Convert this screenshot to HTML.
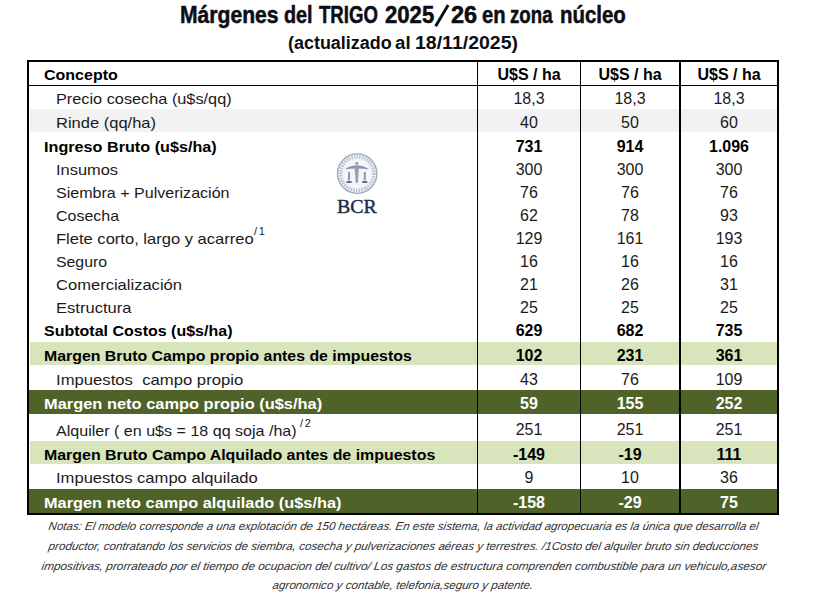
<!DOCTYPE html>
<html><head><meta charset="utf-8"><style>
html,body{margin:0;padding:0;background:#fff;width:828px;height:598px;overflow:hidden;position:relative}
*{box-sizing:border-box}
.a{position:absolute;white-space:nowrap}
.t{font-family:"Liberation Sans",sans-serif;font-size:15px;line-height:18px}
.b{font-weight:bold}
.c{text-align:center}
</style></head><body>

<div class="a" style="left:0;top:0;width:828px;height:598px">
<div class="a b" style="left:180.09px;top:1.93px;font-family:'Liberation Sans',sans-serif;font-size:23.3px;line-height:26px;color:#0d0d14;-webkit-text-stroke:0.5px #0d0d14;transform-origin:0 0;transform:scaleX(0.9065)">Márgenes</div>
<div class="a b" style="left:283.65px;top:1.93px;font-family:'Liberation Sans',sans-serif;font-size:23.3px;line-height:26px;color:#0d0d14;-webkit-text-stroke:0.5px #0d0d14;transform-origin:0 0;transform:scaleX(0.8500)">del</div>
<div class="a b" style="left:318.60px;top:1.93px;font-family:'Liberation Sans',sans-serif;font-size:23.3px;line-height:26px;color:#0d0d14;-webkit-text-stroke:0.5px #0d0d14;transform-origin:0 0;transform:scaleX(0.7986)">TRIGO</div>
<div class="a b" style="left:385.00px;top:1.93px;font-family:'Liberation Sans',sans-serif;font-size:23.3px;line-height:26px;color:#0d0d14;-webkit-text-stroke:0.5px #0d0d14;transform-origin:0 0;transform:scaleX(0.9490)">2025</div>
<div class="a b" style="left:450.70px;top:1.93px;font-family:'Liberation Sans',sans-serif;font-size:23.3px;line-height:26px;color:#0d0d14;-webkit-text-stroke:0.5px #0d0d14;transform-origin:0 0;transform:scaleX(1.0120)">26</div>
<div class="a b" style="left:481.63px;top:1.93px;font-family:'Liberation Sans',sans-serif;font-size:23.3px;line-height:26px;color:#0d0d14;-webkit-text-stroke:0.5px #0d0d14;transform-origin:0 0;transform:scaleX(0.8680)">en</div>
<div class="a b" style="left:509.70px;top:1.93px;font-family:'Liberation Sans',sans-serif;font-size:23.3px;line-height:26px;color:#0d0d14;-webkit-text-stroke:0.5px #0d0d14;transform-origin:0 0;transform:scaleX(0.8019)">zona</div>
<div class="a b" style="left:560.22px;top:1.93px;font-family:'Liberation Sans',sans-serif;font-size:23.3px;line-height:26px;color:#0d0d14;-webkit-text-stroke:0.5px #0d0d14;transform-origin:0 0;transform:scaleX(0.8767)">núcleo</div>
<svg class="a" style="left:0;top:0" width="828" height="40"><line x1="435.6" y1="26.3" x2="448.2" y2="5" stroke="#0d0d14" stroke-width="2.9"/></svg>
<div class="a b" style="left:287.98px;top:32.74px;font-family:'Liberation Sans',sans-serif;font-size:17.5px;line-height:20px;color:#0d0d14;transform-origin:0 0;transform:scaleX(1.0250)">(actualizado</div>
<div class="a b" style="left:394.93px;top:32.74px;font-family:'Liberation Sans',sans-serif;font-size:17.5px;line-height:20px;color:#0d0d14;transform-origin:0 0;transform:scaleX(1.0667)">al</div>
<div class="a b" style="left:414.89px;top:32.74px;font-family:'Liberation Sans',sans-serif;font-size:17.5px;line-height:20px;color:#0d0d14;transform-origin:0 0;transform:scaleX(1.1143)">18/11/2025)</div>
<div class="t a b" style="left:44px;top:65.80px;color:#000;transform-origin:0 0;transform:scaleX(1.0667)">Concepto</div>
<div class="t a b c" style="left:478px;top:65.59px;width:102px;color:#000;font-size:15.6px;transform:scaleX(1.0256)">U$S / ha</div>
<div class="t a b c" style="left:581px;top:65.59px;width:98px;color:#000;font-size:15.6px;transform:scaleX(1.0256)">U$S / ha</div>
<div class="t a b c" style="left:681px;top:65.59px;width:96px;color:#000;font-size:15.6px;transform:scaleX(1.0256)">U$S / ha</div>
<div class="t a" style="left:56px;top:89.80px;color:#1a1a1a;transform-origin:0 0;transform:scaleX(1.0859)">Precio cosecha (u$s/qq)</div>
<div class="t a c" style="left:478px;top:89.59px;width:102px;color:#1a1a1a;font-size:15.6px;transform:scaleX(1.0256)">18,3</div>
<div class="t a c" style="left:581px;top:89.59px;width:98px;color:#1a1a1a;font-size:15.6px;transform:scaleX(1.0256)">18,3</div>
<div class="t a c" style="left:681px;top:89.59px;width:96px;color:#1a1a1a;font-size:15.6px;transform:scaleX(1.0256)">18,3</div>
<div class="a" style="left:30px;top:109px;width:747px;height:23px;background:#F2F2F2"></div>
<div class="t a" style="left:56px;top:113.80px;color:#1a1a1a;transform-origin:0 0;transform:scaleX(1.1008)">Rinde (qq/ha)</div>
<div class="t a c" style="left:478px;top:113.59px;width:102px;color:#1a1a1a;font-size:15.6px;transform:scaleX(1.0256)">40</div>
<div class="t a c" style="left:581px;top:113.59px;width:98px;color:#1a1a1a;font-size:15.6px;transform:scaleX(1.0256)">50</div>
<div class="t a c" style="left:681px;top:113.59px;width:96px;color:#1a1a1a;font-size:15.6px;transform:scaleX(1.0256)">60</div>
<div class="t a b" style="left:44px;top:137.80px;color:#000;transform-origin:0 0;transform:scaleX(1.0795)">Ingreso Bruto (u$s/ha)</div>
<div class="t a b c" style="left:478px;top:137.59px;width:102px;color:#000;font-size:15.6px;transform:scaleX(1.0256)">731</div>
<div class="t a b c" style="left:581px;top:137.59px;width:98px;color:#000;font-size:15.6px;transform:scaleX(1.0256)">914</div>
<div class="t a b c" style="left:681px;top:137.59px;width:96px;color:#000;font-size:15.6px;transform:scaleX(1.0256)">1.096</div>
<div class="t a" style="left:56px;top:161.10px;color:#1a1a1a;transform-origin:0 0;transform:scaleX(1.0944)">Insumos</div>
<div class="t a c" style="left:478px;top:160.89px;width:102px;color:#1a1a1a;font-size:15.6px;transform:scaleX(1.0256)">300</div>
<div class="t a c" style="left:581px;top:160.89px;width:98px;color:#1a1a1a;font-size:15.6px;transform:scaleX(1.0256)">300</div>
<div class="t a c" style="left:681px;top:160.89px;width:96px;color:#1a1a1a;font-size:15.6px;transform:scaleX(1.0256)">300</div>
<div class="t a" style="left:56px;top:183.90px;color:#1a1a1a;transform-origin:0 0;transform:scaleX(1.0699)">Siembra + Pulverización</div>
<div class="t a c" style="left:478px;top:183.69px;width:102px;color:#1a1a1a;font-size:15.6px;transform:scaleX(1.0256)">76</div>
<div class="t a c" style="left:581px;top:183.69px;width:98px;color:#1a1a1a;font-size:15.6px;transform:scaleX(1.0256)">76</div>
<div class="t a c" style="left:681px;top:183.69px;width:96px;color:#1a1a1a;font-size:15.6px;transform:scaleX(1.0256)">76</div>
<div class="t a" style="left:56px;top:206.80px;color:#1a1a1a;transform-origin:0 0;transform:scaleX(1.0667)">Cosecha</div>
<div class="t a c" style="left:478px;top:206.59px;width:102px;color:#1a1a1a;font-size:15.6px;transform:scaleX(1.0256)">62</div>
<div class="t a c" style="left:581px;top:206.59px;width:98px;color:#1a1a1a;font-size:15.6px;transform:scaleX(1.0256)">78</div>
<div class="t a c" style="left:681px;top:206.59px;width:96px;color:#1a1a1a;font-size:15.6px;transform:scaleX(1.0256)">93</div>
<div class="t a" style="left:56px;top:230.20px;color:#1a1a1a;transform-origin:0 0;transform:scaleX(1.1029)">Flete corto, largo y acarreo</div>
<div class="t a c" style="left:478px;top:229.99px;width:102px;color:#1a1a1a;font-size:15.6px;transform:scaleX(1.0256)">129</div>
<div class="t a c" style="left:581px;top:229.99px;width:98px;color:#1a1a1a;font-size:15.6px;transform:scaleX(1.0256)">161</div>
<div class="t a c" style="left:681px;top:229.99px;width:96px;color:#1a1a1a;font-size:15.6px;transform:scaleX(1.0256)">193</div>
<div class="t a" style="left:56px;top:253.00px;color:#1a1a1a;transform-origin:0 0;transform:scaleX(1.0560)">Seguro</div>
<div class="t a c" style="left:478px;top:252.79px;width:102px;color:#1a1a1a;font-size:15.6px;transform:scaleX(1.0256)">16</div>
<div class="t a c" style="left:581px;top:252.79px;width:98px;color:#1a1a1a;font-size:15.6px;transform:scaleX(1.0256)">16</div>
<div class="t a c" style="left:681px;top:252.79px;width:96px;color:#1a1a1a;font-size:15.6px;transform:scaleX(1.0256)">16</div>
<div class="t a" style="left:56px;top:275.90px;color:#1a1a1a;transform-origin:0 0;transform:scaleX(1.1029)">Comercialización</div>
<div class="t a c" style="left:478px;top:275.69px;width:102px;color:#1a1a1a;font-size:15.6px;transform:scaleX(1.0256)">21</div>
<div class="t a c" style="left:581px;top:275.69px;width:98px;color:#1a1a1a;font-size:15.6px;transform:scaleX(1.0256)">26</div>
<div class="t a c" style="left:681px;top:275.69px;width:96px;color:#1a1a1a;font-size:15.6px;transform:scaleX(1.0256)">31</div>
<div class="t a" style="left:56px;top:298.90px;color:#1a1a1a;transform-origin:0 0;transform:scaleX(1.1040)">Estructura</div>
<div class="t a c" style="left:478px;top:298.69px;width:102px;color:#1a1a1a;font-size:15.6px;transform:scaleX(1.0256)">25</div>
<div class="t a c" style="left:581px;top:298.69px;width:98px;color:#1a1a1a;font-size:15.6px;transform:scaleX(1.0256)">25</div>
<div class="t a c" style="left:681px;top:298.69px;width:96px;color:#1a1a1a;font-size:15.6px;transform:scaleX(1.0256)">25</div>
<div class="t a b" style="left:44px;top:322.30px;color:#000;transform-origin:0 0;transform:scaleX(1.0667)">Subtotal Costos (u$s/ha)</div>
<div class="t a b c" style="left:478px;top:322.09px;width:102px;color:#000;font-size:15.6px;transform:scaleX(1.0256)">629</div>
<div class="t a b c" style="left:581px;top:322.09px;width:98px;color:#000;font-size:15.6px;transform:scaleX(1.0256)">682</div>
<div class="t a b c" style="left:681px;top:322.09px;width:96px;color:#000;font-size:15.6px;transform:scaleX(1.0256)">735</div>
<div class="a" style="left:30px;top:342px;width:747px;height:23px;background:#D8E4BC"></div>
<div class="t a b" style="left:44px;top:346.90px;color:#000;transform-origin:0 0;transform:scaleX(1.0581)">Margen Bruto Campo propio antes de impuestos</div>
<div class="t a b c" style="left:478px;top:346.69px;width:102px;color:#000;font-size:15.6px;transform:scaleX(1.0256)">102</div>
<div class="t a b c" style="left:581px;top:346.69px;width:98px;color:#000;font-size:15.6px;transform:scaleX(1.0256)">231</div>
<div class="t a b c" style="left:681px;top:346.69px;width:96px;color:#000;font-size:15.6px;transform:scaleX(1.0256)">361</div>
<div class="t a" style="left:56px;top:370.80px;color:#1a1a1a;transform-origin:0 0;transform:scaleX(1.1115)">Impuestos &nbsp;campo propio</div>
<div class="t a c" style="left:478px;top:370.59px;width:102px;color:#1a1a1a;font-size:15.6px;transform:scaleX(1.0256)">43</div>
<div class="t a c" style="left:581px;top:370.59px;width:98px;color:#1a1a1a;font-size:15.6px;transform:scaleX(1.0256)">76</div>
<div class="t a c" style="left:681px;top:370.59px;width:96px;color:#1a1a1a;font-size:15.6px;transform:scaleX(1.0256)">109</div>
<div class="a" style="left:29px;top:390px;width:748px;height:24px;background:#4F6228"></div>
<div class="t a b" style="left:44px;top:394.90px;color:#fff;transform-origin:0 0;transform:scaleX(1.0944)">Margen neto campo propio (u$s/ha)</div>
<div class="t a b c" style="left:478px;top:394.69px;width:102px;color:#fff;font-size:15.6px;transform:scaleX(1.0256)">59</div>
<div class="t a b c" style="left:581px;top:394.69px;width:98px;color:#fff;font-size:15.6px;transform:scaleX(1.0256)">155</div>
<div class="t a b c" style="left:681px;top:394.69px;width:96px;color:#fff;font-size:15.6px;transform:scaleX(1.0256)">252</div>
<div class="t a" style="left:56px;top:421.50px;color:#1a1a1a;transform-origin:0 0;transform:scaleX(1.0709)">Alquiler ( en u$s = 18 qq soja /ha)</div>
<div class="t a c" style="left:478px;top:421.29px;width:102px;color:#1a1a1a;font-size:15.6px;transform:scaleX(1.0256)">251</div>
<div class="t a c" style="left:581px;top:421.29px;width:98px;color:#1a1a1a;font-size:15.6px;transform:scaleX(1.0256)">251</div>
<div class="t a c" style="left:681px;top:421.29px;width:96px;color:#1a1a1a;font-size:15.6px;transform:scaleX(1.0256)">251</div>
<div class="a" style="left:30px;top:441px;width:747px;height:23px;background:#D8E4BC"></div>
<div class="t a b" style="left:44px;top:445.90px;color:#000;transform-origin:0 0;transform:scaleX(1.0613)">Margen Bruto Campo Alquilado antes de impuestos</div>
<div class="t a b c" style="left:478px;top:445.69px;width:102px;color:#000;font-size:15.6px;transform:scaleX(1.0256)">-149</div>
<div class="t a b c" style="left:581px;top:445.69px;width:98px;color:#000;font-size:15.6px;transform:scaleX(1.0256)">-19</div>
<div class="t a b c" style="left:681px;top:445.69px;width:96px;color:#000;font-size:15.6px;transform:scaleX(1.0256)">111</div>
<div class="t a" style="left:56px;top:469.40px;color:#1a1a1a;transform-origin:0 0;transform:scaleX(1.1051)">Impuestos campo alquilado</div>
<div class="t a c" style="left:478px;top:469.19px;width:102px;color:#1a1a1a;font-size:15.6px;transform:scaleX(1.0256)">9</div>
<div class="t a c" style="left:581px;top:469.19px;width:98px;color:#1a1a1a;font-size:15.6px;transform:scaleX(1.0256)">10</div>
<div class="t a c" style="left:681px;top:469.19px;width:96px;color:#1a1a1a;font-size:15.6px;transform:scaleX(1.0256)">36</div>
<div class="a" style="left:29px;top:489px;width:748px;height:24px;background:#4F6228"></div>
<div class="t a b" style="left:44px;top:493.90px;color:#fff;transform-origin:0 0;transform:scaleX(1.0880)">Margen neto campo alquilado (u$s/ha)</div>
<div class="t a b c" style="left:478px;top:493.69px;width:102px;color:#fff;font-size:15.6px;transform:scaleX(1.0256)">-158</div>
<div class="t a b c" style="left:581px;top:493.69px;width:98px;color:#fff;font-size:15.6px;transform:scaleX(1.0256)">-29</div>
<div class="t a b c" style="left:681px;top:493.69px;width:96px;color:#fff;font-size:15.6px;transform:scaleX(1.0256)">75</div>
<div class="a" style="left:254px;top:225.19px;font-family:'Liberation Sans',sans-serif;font-size:11px;line-height:12px;color:#1a1a1a">/<span style="margin-left:1.6px">1</span></div>
<div class="a" style="left:300px;top:417.19px;font-family:'Liberation Sans',sans-serif;font-size:11px;line-height:12px;color:#1a1a1a">/<span style="margin-left:1.6px">2</span></div>
<div class="a" style="left:27px;top:60px;width:752px;height:455px;border:2px solid #000"></div>
<div class="a" style="left:29px;top:85px;width:748px;height:1px;background:#000"></div>
<div class="a" style="left:477px;top:62px;width:1px;height:451px;background:#000"></div>
<div class="a" style="left:580px;top:62px;width:1px;height:451px;background:#000"></div>
<div class="a" style="left:679px;top:62px;width:2px;height:451px;background:#000"></div>
<svg class="a" style="left:335px;top:152px" width="45" height="45" viewBox="0 0 45 45">
<circle cx="22.2" cy="21.6" r="19.7" fill="#f3f5f9" stroke="#9aa7bd" stroke-width="1.3"/>
<circle cx="22.2" cy="21.6" r="16.8" fill="none" stroke="#b6c0cf" stroke-width="3.6" stroke-dasharray="1.4 1.2"/>
<circle cx="21.8" cy="11.3" r="1.5" fill="#8e9bb1"/>
<path d="M9.8 17.6 Q14 13.6 21.8 13.2 Q29.6 13.6 33.8 17.6 Q28 16.2 21.8 16.4 Q15.6 16.2 9.8 17.6 Z" fill="#8794ab"/>
<path d="M19.4 15 L24 15 L23.4 23 L23 30.8 L20.6 30.8 L20.2 23 Z" fill="#94a1b6"/>
<path d="M14 20 L14 28.5 M29.8 20 L29.8 28.5" stroke="#8c99ae" stroke-width="2"/>
<path d="M11.6 30 L16.6 30 M27.3 30 L32.3 30" stroke="#5d6d88" stroke-width="2"/>
</svg>
<div class="a" style="left:337px;top:196.72px;font-family:'Liberation Serif',serif;font-size:19.5px;line-height:20px;color:#1f2d4e;-webkit-text-stroke:0.45px #1f2d4e;transform-origin:0 0;transform:scaleX(1.02)">BCR</div>
<div class="a" style="transform-origin:0 10.5px;transform:scaleX(1.0014) skewX(-9deg);left:48px;top:519.52px;font-family:'Liberation Sans',sans-serif;font-style:italic;font-size:11.5px;line-height:13px;color:#303030">Notas: El modelo corresponde a una explotación de 150 hectáreas. En este sistema, la actividad agropecuaria es la única que desarrolla el</div>
<div class="a" style="transform-origin:0 10.5px;transform:scaleX(1.0130) skewX(-9deg);left:48px;top:540.12px;font-family:'Liberation Sans',sans-serif;font-style:italic;font-size:11.5px;line-height:13px;color:#303030">productor, contratando los servicios de siembra, cosecha y pulverizaciones aéreas y terrestres. /1Costo del alquiler bruto sin deducciones</div>
<div class="a" style="transform-origin:0 10.5px;transform:scaleX(1.0240) skewX(-9deg);left:41px;top:559.52px;font-family:'Liberation Sans',sans-serif;font-style:italic;font-size:11.5px;line-height:13px;color:#303030">impositivas, prorrateado por el tiempo de ocupacion del cultivo/ Los gastos de estructura comprenden combustible para un vehiculo,asesor</div>
<div class="a" style="transform-origin:0 10.5px;transform:scaleX(1.0120) skewX(-9deg);left:272px;top:578.52px;font-family:'Liberation Sans',sans-serif;font-style:italic;font-size:11.5px;line-height:13px;color:#303030">agronomico y contable, telefonia,seguro y patente.</div>
</div></body></html>
